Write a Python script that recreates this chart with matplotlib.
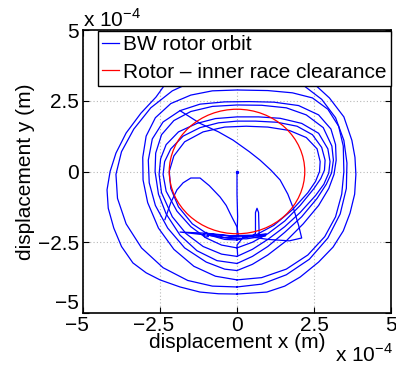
import matplotlib
matplotlib.use("Agg")
import matplotlib.pyplot as plt
from matplotlib.patches import Circle
from matplotlib.lines import Line2D
from matplotlib.transforms import ScaledTranslation

plt.rcParams['font.family'] = ['Liberation Sans', 'DejaVu Sans']
plt.rcParams['mathtext.fontset'] = 'custom'
plt.rcParams['mathtext.rm'] = 'Liberation Sans'

# ---- data (units of 1e-4 m) ----
tick_values = [-5, -2.5, 0, 2.5, 5]
tick_labels = ['\u22125', '\u22122.5', '0', '2.5', '5']

clearance_center = (0.0, 0.0)
clearance_radius = 2.2

orbit_start = [(0, 0), (0.0, -0.8), (0.02, -1.6), (0.0, -2.3), (-0.5, -2.25), (-0.95, -2.2),
               (-1.0, -2.15), (-1.1, -2.22), (-1.05, -2.32), (-0.93, -2.3), (-0.95, -2.22),
               (-0.4, -2.33), (0.3, -2.3), (0.95, -2.2), (0.92, -2.28), (0.3, -2.38), (-0.3, -2.36),
               (-0.95, -2.25), (-1.85, -2.14), (-1.0, -2.18), (-0.2, -2.27), (0.5, -2.25),
               (0.6, -2.2), (0.6, -1.45), (0.65, -1.3), (0.7, -1.45), (0.72, -2.25), (0.9, -2.25),
               (0.2, -2.32), (0.0, -2.6), (0.02, -2.95)]

orbit_small = [(-2.34, -1.7), (-2.15, -1.1), (-1.95, -0.65), (-1.75, -0.4), (-1.5, -0.23),
               (-1.2, -0.23), (-0.9, -0.5), (-0.55, -0.9), (-0.35, -1.2), (-0.23, -1.47),
               (-0.1, -1.75), (0, -1.96), (0.05, -2.3)]

orbit_inner = [(-1.85, 2.15), (-1.2, 1.7), (-0.6, 1.4), (-0.13, 1.11), (0.4, 0.7), (0.75, 0.4),
               (1.1, 0.05), (1.4, -0.3), (1.65, -0.8), (1.85, -1.36), (2.0, -1.9), (2.1, -2.35),
               (1.7, -2.45), (1.0, -2.4), (0.4, -2.3)]

orbit_H = [(0, -2.42), (0.6, -2.25), (1.2, -1.9), (1.8, -1.35), (2.3, -0.75), (2.55, -0.35),
           (2.68, 0.0), (2.7, 0.35), (2.6, 0.8), (2.25, 1.2), (1.7, 1.45), (1.0, 1.57), (0.3, 1.6),
           (-0.4, 1.57), (-1.1, 1.4), (-1.7, 1.05), (-2.05, 0.55), (-2.2, 0), (-2.15, -0.6),
           (-1.9, -1.25), (-1.45, -1.85), (-0.9, -2.25), (-0.4, -2.4), (0, -2.42)]

orbit_G = [(0, -2.7), (0.5, -2.5), (1.0, -2.2), (1.55, -1.75), (2.05, -1.2), (2.5, -0.6),
           (2.72, -0.25), (2.84, 0.05), (2.86, 0.4), (2.75, 0.85), (2.45, 1.3), (1.95, 1.6),
           (1.3, 1.74), (0.6, 1.78), (0, 1.78), (-0.6, 1.72), (-1.2, 1.55), (-1.75, 1.25),
           (-2.15, 0.8), (-2.35, 0.35), (-2.4, -0.1), (-2.3, -0.7), (-1.95, -1.4), (-1.5, -1.95),
           (-1.0, -2.35), (-0.5, -2.6), (0, -2.7)]

orbit_F = [(0, -3.0), (0.5, -2.75), (1.0, -2.4), (1.55, -1.95), (2.05, -1.45), (2.55, -0.85),
           (2.82, -0.45), (2.98, -0.05), (3.02, 0.35), (2.95, 0.8), (2.65, 1.35), (2.1, 1.7),
           (1.4, 1.88), (0.7, 1.93), (0, 1.93), (-0.7, 1.87), (-1.3, 1.7), (-1.9, 1.4), (-2.3, 0.95),
           (-2.48, 0.45), (-2.53, -0.1), (-2.45, -0.75), (-2.1, -1.6), (-1.65, -2.2), (-1.1, -2.65),
           (-0.5, -2.92), (0, -3.0)]

orbit_E = [(0, -3.25), (0.5, -3.0), (1.0, -2.65), (1.55, -2.15), (2.1, -1.6), (2.6, -0.95),
           (2.9, -0.45), (3.07, -0.05), (3.13, 0.4), (3.08, 0.9), (2.8, 1.55), (2.25, 2.0),
           (1.6, 2.25), (0.8, 2.34), (0, 2.35), (-0.8, 2.3), (-1.5, 2.12), (-2.05, 1.8),
           (-2.45, 1.3), (-2.64, 0.65), (-2.66, 0), (-2.55, -0.8), (-2.3, -1.5), (-1.85, -2.25),
           (-1.3, -2.8), (-0.65, -3.15), (0, -3.25)]

orbit_D = [(0, -3.5), (0.5, -3.28), (1.0, -2.95), (1.6, -2.45), (2.15, -1.85), (2.65, -1.2),
           (2.98, -0.6), (3.15, -0.1), (3.22, 0.4), (3.2, 0.95), (3.05, 1.5), (2.65, 2.0),
           (2.0, 2.33), (1.2, 2.45), (0.4, 2.47), (-0.4, 2.46), (-1.2, 2.38), (-1.85, 2.15),
           (-2.4, 1.75), (-2.75, 1.15), (-2.88, 0.4), (-2.85, -0.4), (-2.65, -1.2), (-2.25, -2.0),
           (-1.7, -2.7), (-1.0, -3.2), (-0.4, -3.45), (0, -3.5)]

orbit_C = [(0, -3.83), (0.8, -3.75), (1.6, -3.45), (2.3, -2.95), (2.85, -2.3), (3.2, -1.6),
           (3.4, -0.8), (3.47, 0.0), (3.45, 0.9), (3.3, 1.6), (2.95, 2.2), (2.45, 2.6), (1.8, 2.78),
           (1.0, 2.86), (0, 2.88), (-0.8, 2.85), (-1.5, 2.7), (-2.15, 2.4), (-2.65, 1.9), (-2.95, 1.25),
           (-3.06, 0.5), (-3.05, -0.3), (-2.9, -1.1), (-2.55, -2.0), (-2.05, -2.75), (-1.4, -3.35),
           (-0.7, -3.7), (0, -3.83)]

orbit_B = [(0, -4.08), (0.8, -3.98), (1.6, -3.65), (2.35, -3.1), (2.95, -2.35), (3.35, -1.5),
           (3.55, -0.6), (3.57, 0.3), (3.47, 1.1), (3.2, 1.9), (2.75, 2.55), (2.15, 3.05), (1.4, 3.35),
           (0.5, 3.48), (-0.4, 3.45), (-1.3, 3.25), (-2.1, 2.85), (-2.8, 2.25), (-3.35, 1.5),
           (-3.75, 0.7), (-3.93, -0.1), (-3.88, -0.95), (-3.6, -1.85), (-3.1, -2.7), (-2.4, -3.4),
           (-1.6, -3.85), (-0.8, -4.05), (0, -4.08)]

orbit_A = [(0, -4.33), (0.97, -4.26), (1.55, -4.05), (2.05, -3.73), (2.65, -3.2), (3.12, -2.67),
           (3.45, -2.1), (3.67, -1.47), (3.82, -0.8), (3.86, -0.1), (3.83, 0.5), (3.73, 1.1),
           (3.47, 1.93), (3.0, 2.6), (2.5, 3.1), (1.8, 3.5), (1.0, 3.78), (0.1, 3.9), (-0.8, 3.82),
           (-1.6, 3.55), (-2.3, 3.13), (-2.63, 2.63), (-3.12, 2.06), (-3.6, 1.36), (-3.93, 0.65),
           (-4.12, 0), (-4.22, -0.65), (-4.18, -1.3), (-4.0, -2.0), (-3.75, -2.65), (-3.38, -3.23),
           (-2.95, -3.58), (-2.5, -3.83), (-1.85, -4.08), (-1.2, -4.26), (-0.6, -4.32), (0, -4.33)]

orbit_segments = [orbit_start, orbit_small, orbit_inner, orbit_H, orbit_G, orbit_F,
                  orbit_E, orbit_D, orbit_C, orbit_B, orbit_A]

legend_labels = ['BW rotor orbit', 'Rotor \u2013 inner race clearance']

# ---- figure ----
fig = plt.figure(figsize=(3.96, 3.65), dpi=100)
ax = fig.add_axes([83/396, 52/365, 308/396, 283/365])

for seg in orbit_segments:
    xs, ys = zip(*seg)
    ax.plot(xs, ys, color='blue', lw=0.9, zorder=2, solid_joinstyle='round')
ax.plot([orbit_start[0][0]], [orbit_start[0][1]], marker='.', color='blue', ms=3, zorder=2)

circ = Circle(clearance_center, clearance_radius, fill=False, ec='red', lw=0.9, zorder=3)
ax.add_patch(circ)

ax.set_xlim(-5, 5)
ax.set_ylim(-5, 5)
ax.set_xticks(tick_values)
ax.set_xticklabels(tick_labels)
ax.set_yticks(tick_values)
ax.set_yticklabels(tick_labels)
ax.tick_params(direction='in', top=True, right=True, length=4, width=0.8,
               labelsize=15, colors='black')
ax.tick_params(axis='x', pad=2)
ax.tick_params(axis='y', pad=3)
ax.grid(True, color='#b8b8b8', linestyle=(0, (1, 2)), lw=0.8, zorder=0)
ax.set_axisbelow(True)
for s in ax.spines.values():
    s.set_linewidth(1.2)

# MATLAB-like placement: negative x labels centred on their digits, bottom y label raised
shift_left = ScaledTranslation(-6/100, 0, fig.dpi_scale_trans)
for lab in ax.get_xticklabels():
    if lab.get_text().startswith('\u2212'):
        lab.set_transform(lab.get_transform() + shift_left)
ax.get_yticklabels()[0].set_va('bottom')

ax.set_xlabel('displacement x (m)', fontsize=15, labelpad=-1)
ax.set_ylabel('displacement y (m)', fontsize=15, labelpad=2)

handles = [Line2D([], [], color='blue', lw=0.9), Line2D([], [], color='red', lw=0.9)]
leg = ax.legend(handles, legend_labels, loc='upper left', bbox_to_anchor=(0.045, 1.0),
                fontsize=15, frameon=True, fancybox=False, framealpha=1, edgecolor='black',
                handlelength=0.8, handletextpad=0.2, borderpad=0.2, labelspacing=0.4,
                borderaxespad=0.05)
leg.get_frame().set_linewidth(1.0)
leg.set_zorder(5)

fig.text(83/396, 1 - 27/365, r'x 10$^{\mathregular{-4}}$', fontsize=15, ha='left', va='baseline')
fig.text(335/396, 1 - 362/365, r'x 10$^{\mathregular{-4}}$', fontsize=15, ha='left', va='baseline')

fig.savefig('out.png', dpi=100)
